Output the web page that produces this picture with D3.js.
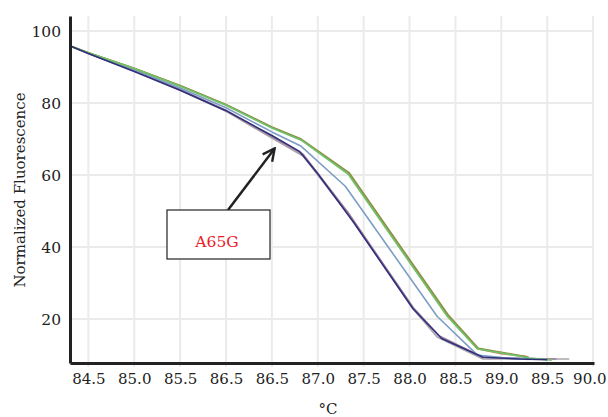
<!DOCTYPE html>
<html>
<head>
<meta charset="utf-8">
<script src="https://cdn.jsdelivr.net/npm/d3@7"></script>
<style>
  html, body { margin: 0; padding: 0; background: #fff; }
  svg { display: block; }
</style>
</head>
<body>
<svg id="chart" width="608" height="417"></svg>
<script>
// ---- data (temperature °C, normalized fluorescence) ----
const grayT   = [84.31, 84.5, 85.0, 85.5, 86.0, 86.5, 86.84, 87.33, 88.04, 88.30, 88.80, 89.30, 89.74];
const grayV   = [95.8, 93.8, 88.9, 83.6, 77.7, 70.3, 65.3, 49.2, 22.8, 15.0, 8.9, 8.9, 8.9];
const mauveT  = [84.31, 84.5, 85.0, 85.5, 86.0, 86.5, 86.84, 87.33, 88.04, 88.32, 88.80, 89.40, 89.60];
const mauveV  = [95.8, 93.8, 89.0, 83.8, 78.0, 70.7, 65.8, 49.6, 23.2, 15.4, 9.4, 9.0, 8.9];
const steelT  = [84.31, 84.5, 85.0, 85.5, 86.0, 86.5, 86.82, 87.30, 88.30, 88.74, 89.00, 89.30];
const steelV  = [95.8, 93.9, 89.3, 84.2, 78.7, 72.0, 68.0, 56.9, 20.8, 10.0, 9.3, 8.8];
const redT    = [84.31, 84.5, 85.0, 85.5, 86.0, 86.5, 86.82, 87.33, 88.41, 88.74, 89.00, 89.28];
const redV    = [95.8, 94.0, 89.6, 84.8, 79.5, 73.2, 69.8, 60.5, 21.0, 11.8, 10.4, 9.6];
const oliveT  = [84.31, 84.5, 85.0, 85.5, 86.0, 86.5, 86.82, 87.34, 88.42, 88.75, 89.00, 89.30];
const oliveV  = [95.8, 94.0, 89.7, 84.9, 79.6, 73.4, 70.0, 60.7, 21.2, 11.9, 10.8, 9.4];
const greenT  = [84.31, 84.5, 85.0, 85.5, 86.0, 86.5, 86.82, 87.33, 88.41, 88.74, 89.00, 89.30, 89.55];
const greenV  = [95.8, 94.0, 89.6, 84.7, 79.4, 73.1, 69.7, 60.3, 20.8, 11.7, 10.6, 9.2, 8.6];
const navyT   = [84.31, 84.5, 85.0, 85.5, 86.0, 86.5, 86.80, 87.00, 87.39, 88.04, 88.35, 88.80, 89.20, 89.50];
const navyV   = [95.8, 93.8, 88.8, 83.6, 77.9, 71.0, 66.6, 60.4, 46.9, 22.8, 14.6, 9.4, 8.9, 8.7];

const seriesT = [grayT, mauveT, steelT, redT, oliveT, greenT, navyT];
const seriesV = [grayV, mauveV, steelV, redV, oliveV, greenV, navyV];
const seriesColors = ["#aaa5aa", "#a07e9c", "#7c9dc6", "#c9805e", "#8c8f40", "#6ec46c", "#30307c"];

const xTickValues = [84.5, 85.0, 85.5, 86.0, 86.5, 87.0, 87.5, 88.0, 88.5, 89.0, 89.5, 90.0];
const xTickLabels = ["84.5", "85.0", "85.5", "86.5", "86.5", "87.0", "87.5", "88.0", "88.5", "89.0", "89.5", "90.0"];
const yTickValues = [20, 40, 60, 80, 100];
const xTitle = "°C";
const yTitle = "Normalized Fluorescence";
const annotationText = "A65G";
const annotationTip = [86.53, 68.5];

// ---- drawing ----
const W = 608;
const svg = d3.select("#chart");
const x = d3.scaleLinear().domain([84.30, 90.01]).range([70, 594]);
const y = d3.scaleLinear().domain([7.8, 104.2]).range([363, 16]);
const font = "'DejaVu Serif', 'Liberation Serif', serif";

// grid
const grid = svg.append("g");
grid.selectAll("line.v").data(xTickValues).join("line")
  .attr("x1", d => x(d)).attr("x2", d => x(d))
  .attr("y1", y.range()[1]).attr("y2", y.range()[0] + 4)
  .attr("stroke", "#ebebeb").attr("stroke-width", 2);
grid.selectAll("line.h").data(yTickValues).join("line")
  .attr("x1", x.range()[0]).attr("x2", x(90.0))
  .attr("y1", d => y(d)).attr("y2", d => y(d))
  .attr("stroke", "#ebebeb").attr("stroke-width", 2);

// lines
const line = d3.line().x(d => x(d[0])).y(d => y(d[1]));
seriesV.forEach((vals, i) => {
  svg.append("path")
    .datum(vals.map((v, j) => [seriesT[i][j], v]))
    .attr("fill", "none")
    .attr("stroke", seriesColors[i])
    .attr("stroke-width", 1.6)
    .attr("stroke-linejoin", "round")
    .attr("d", line);
});

// axes
const xAxis = d3.axisBottom(x).tickValues(xTickValues)
  .tickFormat((d, i) => xTickLabels[i]).tickSize(0).tickPadding(10);
const gx = svg.append("g").attr("transform", `translate(0,${y.range()[0]})`).call(xAxis);
gx.select(".domain").attr("stroke", "#222").attr("stroke-width", 3);
gx.selectAll("text").attr("font-family", font).attr("font-size", 15).attr("fill", "#222");
// keep the last label inside the picture
gx.selectAll(".tick text").each(function(d) {
  const node = this;
  const bb = node.getBBox();
  const right = x(d) + bb.x + bb.width;
  if (right > W - 2) d3.select(node).attr("x", (W - 2) - right);
});

const yAxis = d3.axisLeft(y).tickValues(yTickValues).tickSize(0).tickPadding(9);
const gy = svg.append("g").attr("transform", `translate(${x.range()[0]},0)`).call(yAxis);
gy.select(".domain").attr("stroke", "#222").attr("stroke-width", 3);
gy.selectAll("text").attr("font-family", font).attr("font-size", 15.5).attr("fill", "#222");

// titles
svg.append("text").attr("x", 328).attr("y", 414).attr("text-anchor", "middle")
  .attr("font-family", font).attr("font-size", 15).attr("fill", "#222").text(xTitle);
svg.append("text").attr("transform", "translate(25,190) rotate(-90)")
  .attr("text-anchor", "middle").attr("font-family", font).attr("font-size", 15)
  .attr("fill", "#222").text(yTitle);

// annotation
const defs = svg.append("defs");
defs.append("marker").attr("id", "arr").attr("viewBox", "0 0 10 10")
  .attr("refX", 9).attr("refY", 5).attr("markerWidth", 6).attr("markerHeight", 6)
  .attr("orient", "auto")
  .append("path").attr("d", "M1,1 L9,5 L1,9").attr("fill", "none")
  .attr("stroke", "#222").attr("stroke-width", 1.6);
const tipX = x(annotationTip[0]), tipY = y(annotationTip[1]) + 4;
svg.append("line").attr("x1", 228).attr("y1", 210).attr("x2", tipX).attr("y2", tipY)
  .attr("stroke", "#222").attr("stroke-width", 2.5).attr("marker-end", "url(#arr)");
svg.append("rect").attr("x", 167).attr("y", 210).attr("width", 103).attr("height", 49)
  .attr("fill", "#fff").attr("stroke", "#222").attr("stroke-width", 1.2);
svg.append("text").attr("x", 217).attr("y", 247).attr("text-anchor", "middle")
  .attr("font-family", font).attr("font-size", 15.5).attr("fill", "#e8202a").text(annotationText);
</script>
</body>
</html>
